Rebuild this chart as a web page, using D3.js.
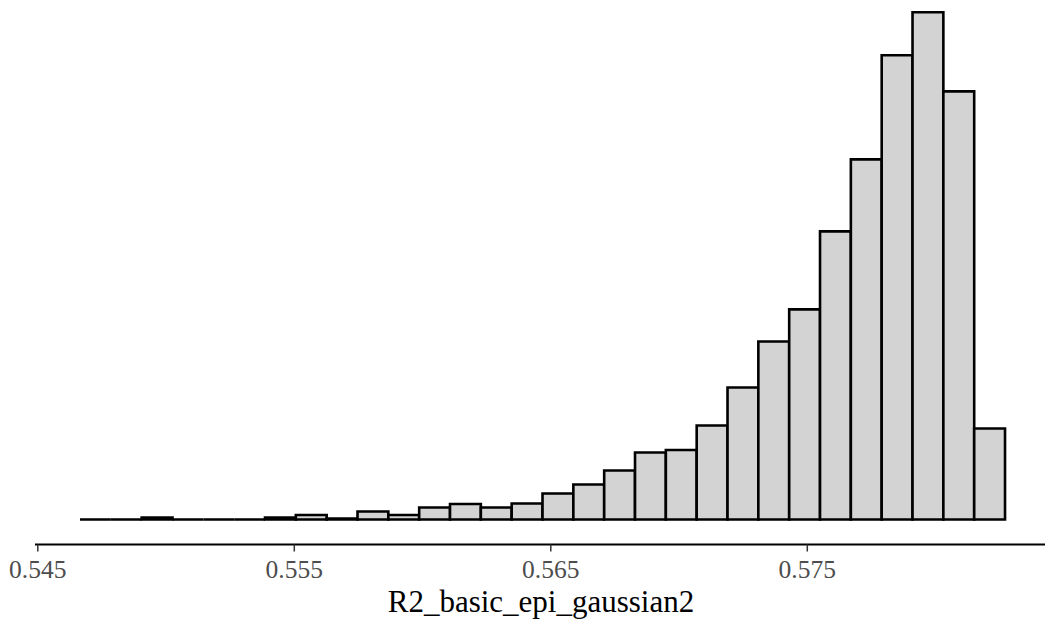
<!DOCTYPE html>
<html>
<head>
<meta charset="utf-8">
<script src="https://cdn.jsdelivr.net/npm/d3@7"></script>
<style>
  body { margin: 0; background: #fff; }
  text { font-family: "Liberation Serif", "DejaVu Serif", serif; }
</style>
</head>
<body>
<div id="chart"></div>
<script>
// histogram of R2_basic_epi_gaussian2, 30 bins
var binStart = 0.546665,
    binWidth = 0.0012021;
var counts = [0, 0, 4, 0, 0, 0, 4, 9, 2, 16,
              9, 24, 31, 24, 32, 52, 70, 98, 134, 139,
              188, 264, 356, 420, 576, 720, 928, 1014, 856, 182];
var tickValues = [0.545, 0.555, 0.565, 0.575];
var xTitle = "R2_basic_epi_gaussian2";

var width = 1045, height = 619;

var svg = d3.select("#chart")
  .append("svg")
  .attr("width", width)
  .attr("height", height);

var bins = counts.map(function(c, i) {
  return { x0: binStart + i * binWidth, x1: binStart + (i + 1) * binWidth, count: c };
});

// x scale: 0.01 ~ 256.5px
var x = d3.scaleLinear()
  .domain([0.545, 0.585])
  .range([37.3, 37.3 + 256.5 * 4]);

var y = d3.scaleLinear()
  .domain([0, d3.max(counts)])
  .range([519.5, 12.3]);

// bars as closed paths so empty bins still show their outline
svg.selectAll("path.bar")
  .data(bins)
  .enter()
  .append("path")
  .attr("class", "bar")
  .attr("d", function(d) {
    var l = x(d.x0), r = x(d.x1), b = y(0), t = y(d.count);
    return "M" + l + "," + b + "V" + t + "H" + r + "V" + b + "Z";
  })
  .attr("fill", "#d3d3d3")
  .attr("stroke", "#000")
  .attr("stroke-width", 2.6);

// x axis
var axisY = 544.5;
var gx = svg.append("g")
  .attr("transform", "translate(0," + axisY + ")")
  .call(d3.axisBottom(x).tickValues(tickValues).tickSize(7).tickSizeOuter(0)
    .tickFormat(d3.format(".3f")));

gx.select(".domain")
  .attr("d", "M35,0H" + width)
  .attr("stroke", "#000")
  .attr("stroke-width", 2);

gx.selectAll(".tick line")
  .attr("stroke", "#333")
  .attr("stroke-width", 1.5);

gx.selectAll(".tick text")
  .attr("y", 577.5 - axisY)
  .attr("dy", 0)
  .attr("fill", "#4d4d4d")
  .style("font-size", "25.5px")
  .style("font-family", "'Liberation Serif', serif");

// axis title
svg.append("text")
  .attr("x", 541)
  .attr("y", 612.3)
  .attr("text-anchor", "middle")
  .attr("fill", "#000")
  .style("font-size", "31px")
  .text(xTitle);
</script>
</body>
</html>
